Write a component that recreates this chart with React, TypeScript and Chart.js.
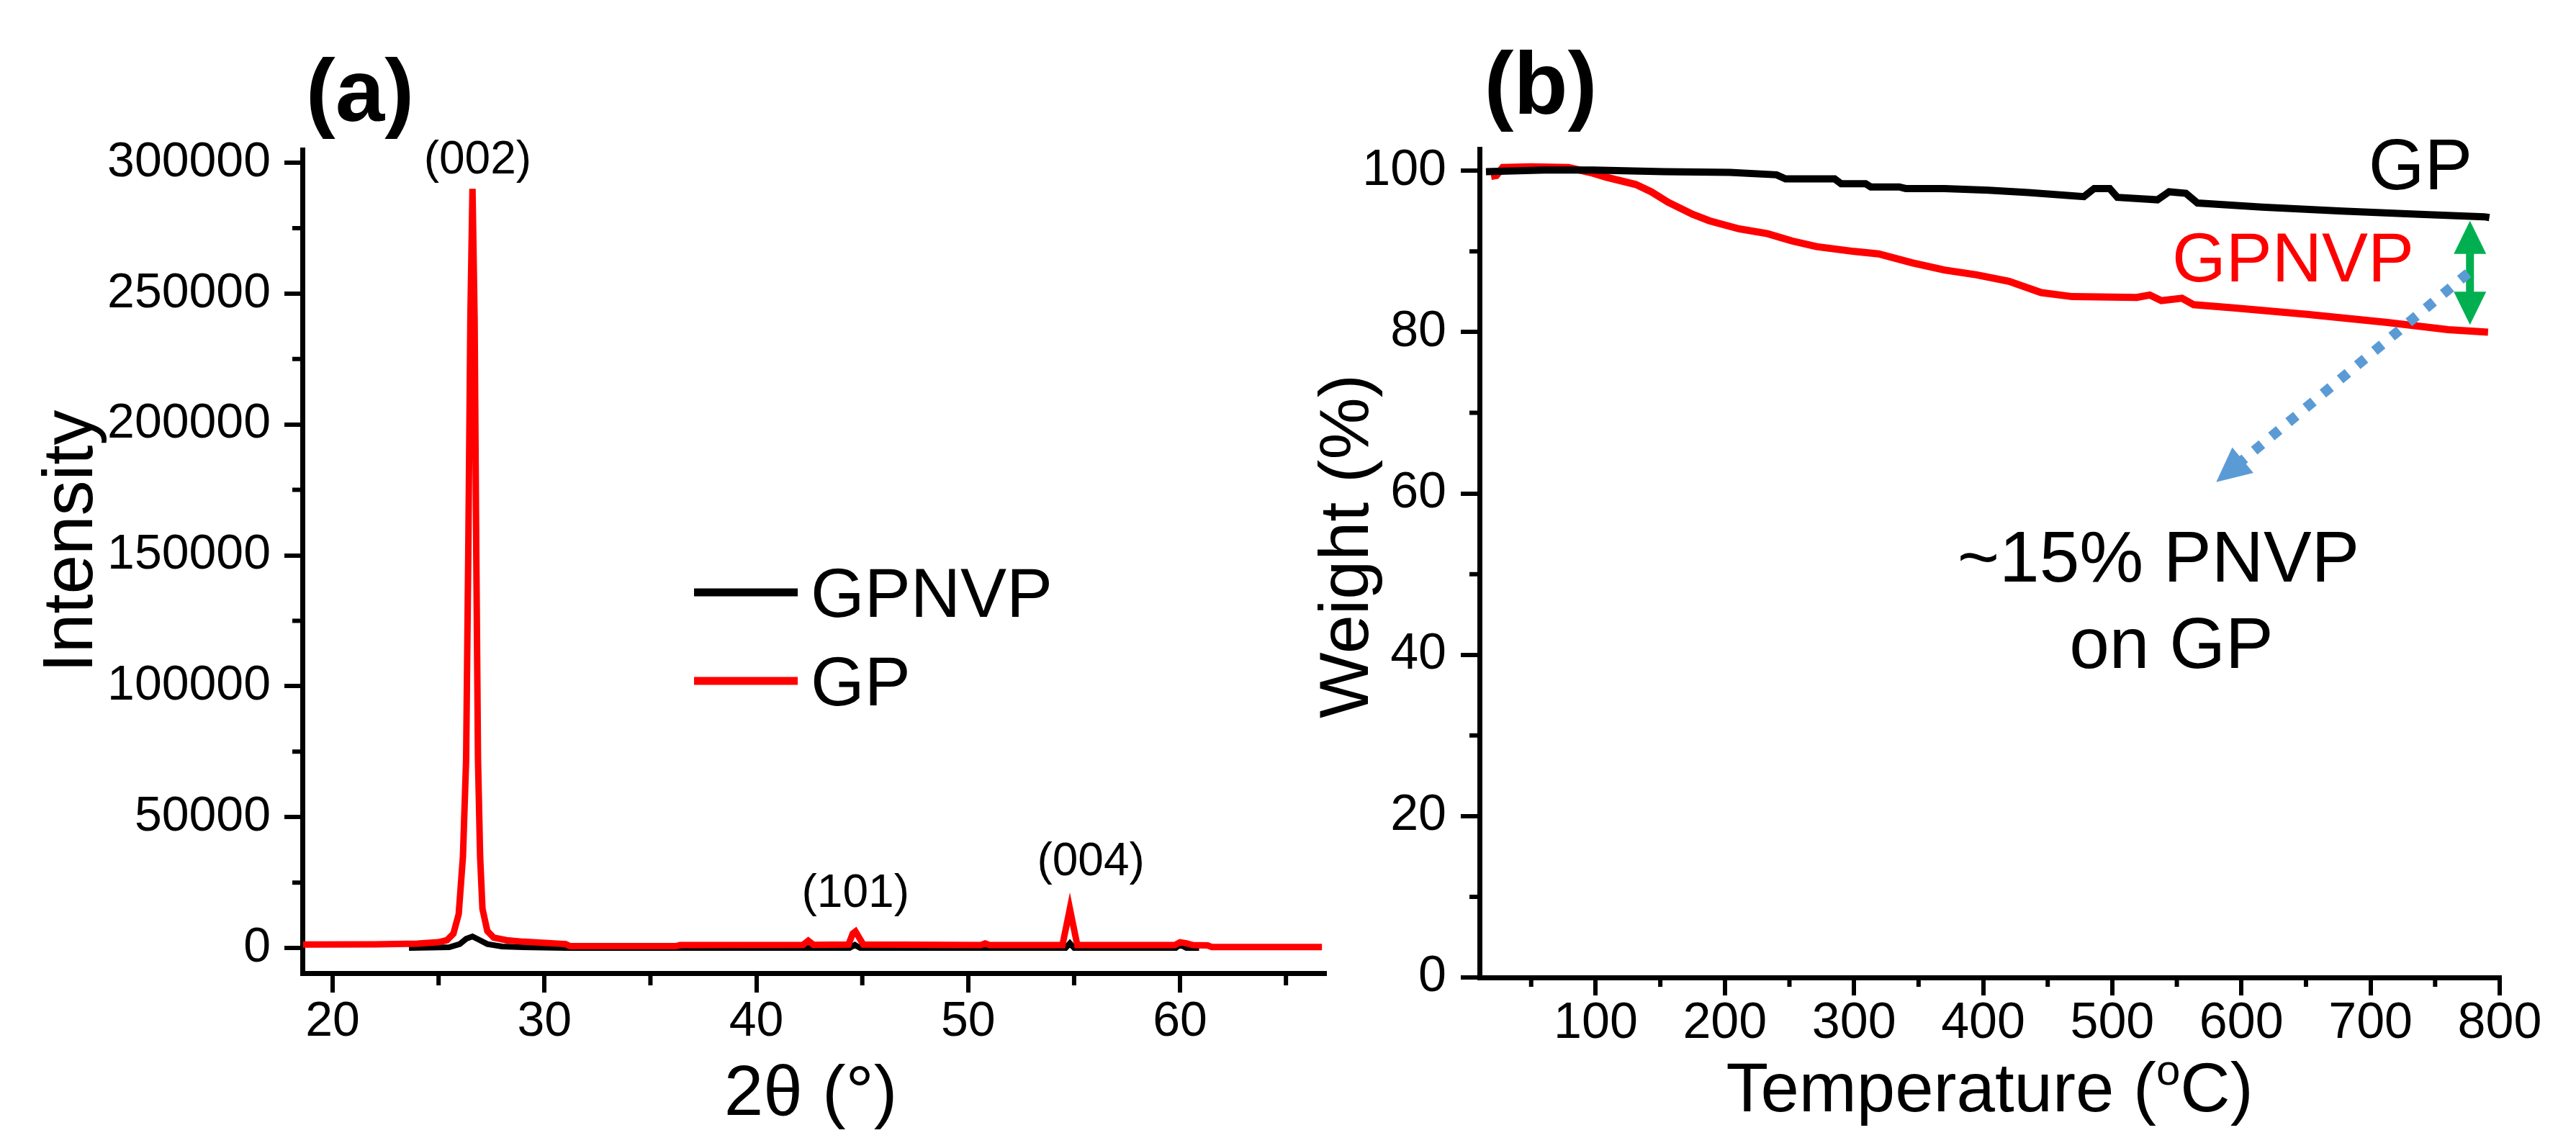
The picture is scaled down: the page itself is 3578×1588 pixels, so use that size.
import { useEffect, useRef } from "react";
import { Chart, registerables } from "chart.js";

Chart.register(...registerables);

const FONT = "'Liberation Sans', Arial, Helvetica, sans-serif";

// ---------------- Panel (a): XRD ----------------
const xrdGpAngle = [
  18.6, 22.0, 24.0, 25.0, 25.4, 25.7, 25.95, 26.15, 26.3, 26.4, 26.5, 26.6, 26.7, 26.78, 26.86, 26.96, 27.07,
  27.3, 27.6, 28.2, 29.0, 31.0, 31.2, 36.2, 36.4, 42.2, 42.45, 42.7, 44.35, 44.55, 44.68, 44.85, 45.05, 50.6,
  50.8, 51.0, 54.45, 54.65, 54.8, 54.95, 55.15, 59.75, 60.0, 60.3, 60.6, 61.3, 61.5, 66.7,
];
const xrdGpIntensity = [
  1300, 1400, 1700, 2200, 3000, 5500, 13000, 35000, 72000, 150000, 240000, 290000, 240000, 150000, 72000, 35000,
  15000, 6500, 4000, 3000, 2400, 1500, 700, 700, 1100, 1200, 2800, 1200, 1300, 5500, 6300, 4000, 1300, 1100, 1700,
  1100, 1100, 9000, 15000, 9000, 1100, 1100, 2200, 1800, 1100, 1000, 400, 400,
];
const xrdGpnvpAngle = [
  23.6, 25.5, 26.0, 26.3, 26.6, 26.9, 27.3, 28.0, 29.0, 31.0, 44.4, 44.65, 44.9, 54.6, 54.8, 55.0, 59.8, 60.0,
  60.3, 60.9,
];
const xrdGpnvpIntensity = [
  0, 300, 1500, 3500, 4400, 3200, 1500, 600, 300, 0, 0, 1200, 0, 0, 1800, 0, 0, 1300, 0, 0,
];
const xrdMajorX = [20, 30, 40, 50, 60];
const xrdMinorX = [25, 35, 45, 55, 65];
const xrdMajorY = [0, 50000, 100000, 150000, 200000, 250000, 300000];
const xrdMinorY = [25000, 75000, 125000, 175000, 225000, 275000];
const xrdPeakLabels = ["(002)", "(101)", "(004)"];
const xrdPeakLabelX = [26.84, 44.68, 55.79];
const xrdPeakLabelY = [296000, 15700, 27700];
const xrdLegendLabels = ["GPNVP", "GP"];

// ---------------- Panel (b): TGA ----------------
const tgaGpTemp = [
  15, 60, 98, 153, 204, 240, 247, 285, 290, 309, 313, 335, 340, 370, 404, 435, 469, 478, 486, 498, 504, 535, 544,
  557, 566, 616, 678, 738, 788, 792,
];
const tgaGpWeight = [
  99.9, 100.1, 100.1, 99.9, 99.8, 99.5, 99.0, 99.0, 98.4, 98.4, 98.0, 98.0, 97.8, 97.8, 97.6, 97.3, 96.9, 96.8,
  97.8, 97.8, 96.7, 96.4, 97.4, 97.2, 96.0, 95.5, 95.0, 94.6, 94.3, 94.2,
];
const tgaGpnvpTemp = [
  19, 23, 28, 50, 79, 98, 108, 131, 143, 156, 175, 188, 211, 233, 252, 271, 300, 319, 345, 370, 395, 420, 445,
  469, 519, 529, 538, 554, 563, 594, 651, 713, 760, 791,
];
const tgaGpnvpWeight = [
  99.3, 99.4, 100.4, 100.5, 100.4, 99.7, 99.2, 98.3, 97.4, 96.1, 94.6, 93.8, 92.8, 92.2, 91.3, 90.6, 90.0, 89.7,
  88.6, 87.7, 87.1, 86.3, 84.9, 84.4, 84.3, 84.6, 83.9, 84.2, 83.4, 83.0, 82.2, 81.2, 80.3, 80.0,
];
const tgaMajorX = [100, 200, 300, 400, 500, 600, 700, 800];
const tgaMinorX = [50, 150, 250, 350, 450, 550, 650, 750];
const tgaMajorY = [0, 20, 40, 60, 80, 100];
const tgaMinorY = [10, 30, 50, 70, 90];
// green double arrow (temperature, weight top, weight bottom)
const gapArrowT = 777;
const gapArrowW = [93.8, 80.9];
// blue dotted arrow: start (T, W) -> tip (T, W)
const noteArrowT = [775.5, 580.5];
const noteArrowW = [87.3, 61.4];
const noteLines = ["~15% PNVP", "on GP"];

// ---------------- helpers ----------------
function pts(xs: number[], ys: number[]) {
  return xs.map((x, i) => ({ x, y: ys[i] }));
}

function drawMinorTicks(chart: any, xVals: number[], yVals: number[], xLen: number, yLen: number, w: number) {
  const ctx = chart.ctx;
  const { left, bottom } = chart.chartArea;
  const xs = chart.scales.x;
  const ys = chart.scales.y;
  ctx.save();
  ctx.strokeStyle = "#000";
  ctx.lineWidth = w;
  ctx.lineCap = "butt";
  ctx.beginPath();
  for (const v of xVals) {
    const px = xs.getPixelForValue(v);
    ctx.moveTo(px, bottom);
    ctx.lineTo(px, bottom + xLen);
  }
  for (const v of yVals) {
    const py = ys.getPixelForValue(v);
    ctx.moveTo(left, py);
    ctx.lineTo(left - yLen, py);
  }
  ctx.stroke();
  ctx.restore();
}

function txt(ctx: CanvasRenderingContext2D, s: string, x: number, y: number, font: string, color = "#000", align: CanvasTextAlign = "center") {
  ctx.save();
  ctx.font = font;
  ctx.fillStyle = color;
  ctx.textAlign = align;
  ctx.textBaseline = "alphabetic";
  ctx.fillText(s, x, y);
  ctx.restore();
}

function vtxt(ctx: CanvasRenderingContext2D, s: string, x: number, y: number, font: string) {
  ctx.save();
  ctx.translate(x, y);
  ctx.rotate(-Math.PI / 2);
  ctx.font = font;
  ctx.fillStyle = "#000";
  ctx.textAlign = "center";
  ctx.textBaseline = "alphabetic";
  ctx.fillText(s, 0, 0);
  ctx.restore();
}

function axisCfg(min: number, max: number, majors: number[], size: number, tickLen: number, pad: number, isX: boolean, fontSize: number) {
  return {
    type: "linear" as const,
    min,
    max,
    afterBuildTicks: (s: any) => {
      s.ticks = majors.map((v) => ({ value: v }));
    },
    afterFit: (s: any) => {
      if (isX) s.height = size;
      else s.width = size;
    },
    border: { display: true, color: "#000", width: 7 },
    grid: {
      display: true,
      drawOnChartArea: false,
      drawTicks: true,
      tickLength: tickLen,
      lineWidth: 6,
      tickWidth: 6,
      color: "#000",
      tickColor: "#000",
    },
    ticks: {
      color: "#000",
      font: { family: FONT, size: fontSize, lineHeight: 1 },
      padding: pad,
      autoSkip: false,
      maxRotation: 0,
      minRotation: 0,
      callback: (v: any) => String(v),
    },
    title: { display: false },
  };
}

export default function App() {
  const refA = useRef<HTMLCanvasElement>(null);
  const refB = useRef<HTMLCanvasElement>(null);

  useEffect(() => {
    const W = 3578;
    const H = 1588;

    // ----- chart A -----
    const decorA = {
      id: "decorA",
      afterDraw(chart: any) {
        const ctx = chart.ctx as CanvasRenderingContext2D;
        const xs = chart.scales.x;
        const ys = chart.scales.y;
        const ca = chart.chartArea;
        drawMinorTicks(chart, xrdMinorX, xrdMinorY, 17, 14, 6);
        // panel label
        txt(ctx, "(a)", 500, 168, `bold 123px ${FONT}`);
        // peak labels
        xrdPeakLabels.forEach((l, i) => {
          txt(ctx, l, xs.getPixelForValue(xrdPeakLabelX[i]), ys.getPixelForValue(xrdPeakLabelY[i]), `64px ${FONT}`);
        });
        // legend
        const legendColors = ["#000000", "#ff0000"];
        const legendY = [823, 946];
        xrdLegendLabels.forEach((l, i) => {
          ctx.save();
          ctx.strokeStyle = legendColors[i];
          ctx.lineWidth = 11;
          ctx.beginPath();
          ctx.moveTo(964, legendY[i]);
          ctx.lineTo(1108, legendY[i]);
          ctx.stroke();
          ctx.restore();
          txt(ctx, l, 1126, legendY[i] + 34, `96px ${FONT}`, "#000", "left");
        });
        // axis titles
        vtxt(ctx, "Intensity", 128, 752, `98px ${FONT}`);
        txt(ctx, "2\u03b8 (\u00b0)", (ca.left + ca.right) / 2 - 4, 1549, `98px ${FONT}`);
      },
    };

    const chartA = new Chart(refA.current as HTMLCanvasElement, {
      type: "scatter",
      data: {
        datasets: [
          {
            label: "GP",
            data: pts(xrdGpAngle, xrdGpIntensity),
            showLine: true,
            borderColor: "#ff0000",
            borderWidth: 9,
            pointRadius: 0,
            tension: 0,
          },
          {
            label: "GPNVP",
            data: pts(xrdGpnvpAngle, xrdGpnvpIntensity),
            showLine: true,
            borderColor: "#000000",
            borderWidth: 8,
            pointRadius: 0,
            tension: 0,
          },
        ],
      },
      options: {
        responsive: false,
        animation: false,
        devicePixelRatio: 1,
        events: [],
        layout: { autoPadding: false, padding: { left: 120, right: W - 1840, top: 208, bottom: H - 1352 - 150 } },
        plugins: { legend: { display: false }, tooltip: { enabled: false }, title: { display: false } },
        scales: {
          x: axisCfg(18.57, 66.83, xrdMajorX, 150, 27, 7, true, 68) as any,
          y: axisCfg(-9600, 304950, xrdMajorY, 300, 25, 19, false, 68) as any,
        },
      },
      plugins: [decorA],
    });

    // ----- chart B -----
    const decorB = {
      id: "decorB",
      afterDraw(chart: any) {
        const ctx = chart.ctx as CanvasRenderingContext2D;
        const xs = chart.scales.x;
        const ys = chart.scales.y;
        const ca = chart.chartArea;
        drawMinorTicks(chart, tgaMinorX, tgaMinorY, 13, 14, 6);
        txt(ctx, "(b)", 2140, 158, `bold 123px ${FONT}`);
        txt(ctx, "GP", 3362, 263, `100px ${FONT}`);
        txt(ctx, "GPNVP", 3185, 391, `96px ${FONT}`, "#ff0000");
        txt(ctx, noteLines[0], 2998, 808, `100px ${FONT}`);
        txt(ctx, noteLines[1], 3016, 928, `100px ${FONT}`);

        // green double arrow
        {
          const gx = xs.getPixelForValue(gapArrowT);
          const y1 = ys.getPixelForValue(gapArrowW[0]);
          const y2 = ys.getPixelForValue(gapArrowW[1]);
          const hl = 46;
          const hw = 22.5;
          ctx.save();
          ctx.fillStyle = "#00B050";
          ctx.strokeStyle = "#00B050";
          ctx.lineWidth = 11;
          ctx.beginPath();
          ctx.moveTo(gx, y1 + hl - 2);
          ctx.lineTo(gx, y2 - hl + 2);
          ctx.stroke();
          ctx.beginPath();
          ctx.moveTo(gx, y1);
          ctx.lineTo(gx - hw, y1 + hl);
          ctx.lineTo(gx + hw, y1 + hl);
          ctx.closePath();
          ctx.fill();
          ctx.beginPath();
          ctx.moveTo(gx, y2);
          ctx.lineTo(gx - hw, y2 - hl);
          ctx.lineTo(gx + hw, y2 - hl);
          ctx.closePath();
          ctx.fill();
          ctx.restore();
        }
        // blue dotted arrow
        {
          const sx = xs.getPixelForValue(noteArrowT[0]);
          const sy = ys.getPixelForValue(noteArrowW[0]);
          const tx = xs.getPixelForValue(noteArrowT[1]);
          const ty = ys.getPixelForValue(noteArrowW[1]);
          const dx = tx - sx;
          const dy = ty - sy;
          const len = Math.hypot(dx, dy);
          const ux = dx / len;
          const uy = dy / len;
          const hl = 48;
          const hw = 23;
          const bx = tx - ux * hl;
          const by = ty - uy * hl;
          ctx.save();
          ctx.strokeStyle = "#5B9BD5";
          ctx.fillStyle = "#5B9BD5";
          ctx.lineWidth = 14;
          ctx.lineCap = "butt";
          ctx.setLineDash([14, 17]);
          ctx.beginPath();
          ctx.moveTo(sx, sy);
          ctx.lineTo(bx + ux * 2, by + uy * 2);
          ctx.stroke();
          ctx.setLineDash([]);
          ctx.beginPath();
          ctx.moveTo(tx, ty);
          ctx.lineTo(bx - uy * hw, by + ux * hw);
          ctx.lineTo(bx + uy * hw, by - ux * hw);
          ctx.closePath();
          ctx.fill();
          ctx.restore();
        }

        // axis titles
        vtxt(ctx, "Weight (%)", 1900, 759, `97px ${FONT}`);
        {
          const cx = (ca.left + ca.right) / 2;
          const base = 1544;
          const big = `96px ${FONT}`;
          const small = `60px ${FONT}`;
          ctx.save();
          ctx.fillStyle = "#000";
          ctx.textBaseline = "alphabetic";
          ctx.textAlign = "left";
          ctx.font = big;
          const w1 = ctx.measureText("Temperature (").width;
          const w3 = ctx.measureText("C)").width;
          ctx.font = small;
          const w2 = ctx.measureText("o").width;
          let x = cx - (w1 + w2 + w3) / 2;
          ctx.font = big;
          ctx.fillText("Temperature (", x, base);
          x += w1;
          ctx.font = small;
          ctx.fillText("o", x, base - 37);
          x += w2;
          ctx.font = big;
          ctx.fillText("C)", x, base);
          ctx.restore();
        }
      },
    };

    const chartB = new Chart(refB.current as HTMLCanvasElement, {
      type: "scatter",
      data: {
        datasets: [
          {
            label: "GP",
            data: pts(tgaGpTemp, tgaGpWeight),
            showLine: true,
            borderColor: "#000000",
            borderWidth: 10,
            pointRadius: 0,
            tension: 0,
          },
          {
            label: "GPNVP",
            data: pts(tgaGpnvpTemp, tgaGpnvpWeight),
            showLine: true,
            borderColor: "#ff0000",
            borderWidth: 10,
            pointRadius: 0,
            tension: 0,
          },
        ],
      },
      options: {
        responsive: false,
        animation: false,
        devicePixelRatio: 1,
        events: [],
        layout: { autoPadding: false, padding: { left: 2055 - 300, right: W - 3472, top: 207, bottom: H - 1358 - 150 } },
        plugins: { legend: { display: false }, tooltip: { enabled: false }, title: { display: false } },
        scales: {
          x: axisCfg(10, 800, tgaMajorX, 150, 25, 5, true, 70) as any,
          y: axisCfg(0, 102.7, tgaMajorY, 300, 26, 20, false, 70) as any,
        },
      },
      plugins: [decorB],
    });

    return () => {
      chartA.destroy();
      chartB.destroy();
    };
  }, []);

  return (
    <div style={{ position: "absolute", left: 0, top: 0, width: 3578, height: 1588, background: "#fff", overflow: "hidden" }}>
      <canvas ref={refA} width={3578} height={1588} style={{ position: "absolute", left: 0, top: 0, width: 3578, height: 1588 }} />
      <canvas ref={refB} width={3578} height={1588} style={{ position: "absolute", left: 0, top: 0, width: 3578, height: 1588 }} />
    </div>
  );
}
